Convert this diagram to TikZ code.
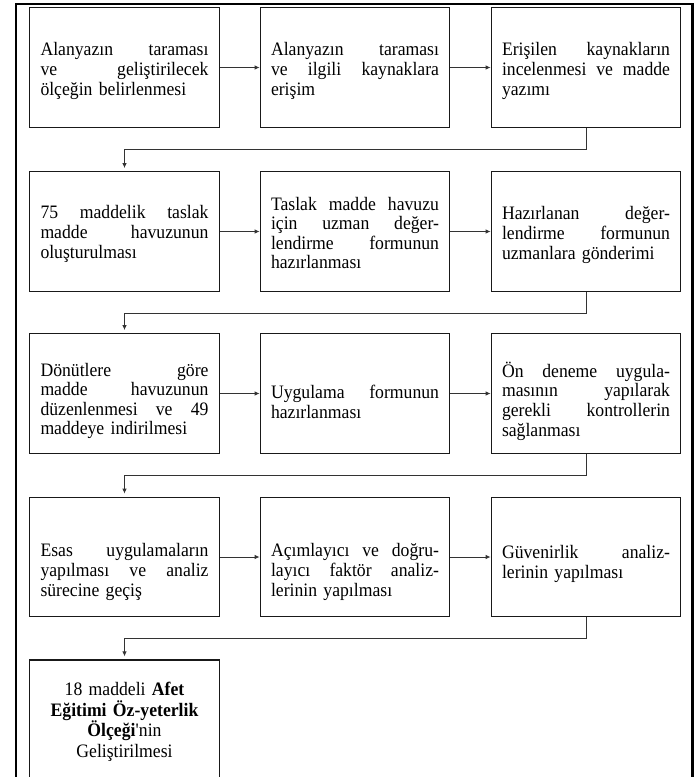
\documentclass[tikz,border=0pt]{standalone}
\usepackage{fontspec}
\setmainfont{Liberation Serif}[FakeStretch=0.93]
\usetikzlibrary{arrows.meta}
\newcommand\jline[1]{\makebox[168pt][s]{\spaceskip=0.25em plus 1fil\relax #1}}
\tikzset{
  frame/.style={draw=black, line width=2.2pt},
  box/.style={draw=black!90, line width=1.3pt, minimum width=189.5pt, minimum height=119.5pt, inner sep=0pt},
  txt/.style={text width=168pt, align=left, inner sep=0pt, font=\fontsize{19pt}{19.6pt}\selectfont},
  ctxt/.style={text width=168pt, align=center, inner sep=0pt, font=\fontsize{19pt}{20.6pt}\selectfont},
  arr/.style={draw=black!80, line width=0.9pt, -{Latex[length=5pt,width=4.5pt]}},
  conn/.style={arr, shorten >=3pt}
}
\begin{document}
\begin{tikzpicture}[x=1pt,y=-1pt]
\useasboundingbox (0,0) rectangle (698,777);
\clip (0,0) rectangle (698,777);
\draw[frame] (16,800) -- (16,4) -- (692.5,4) -- (692.5,800);
% row 1
\node[box] (b11) at (124.5,67.5) {};
\node[box] (b12) at (355,67.5) {};
\node[box] (b13) at (586,67.5) {};
\node[txt] (t11) at (124.5,71) {\jline{Alanyazın taraması}\\\jline{ve geliştirilecek}\\ölçeğin belirlenmesi};
\node[txt] (t12) at (355,71) {\jline{Alanyazın taraması}\\\jline{ve ilgili kaynaklara}\\erişim};
\node[txt] (t13) at (586,71) {\jline{Erişilen kaynakların}\\\jline{incelenmesi ve madde}\\yazımı};
% row 2
\node[box] (b21) at (124.5,231.5) {};
\node[box] (b22) at (355,231.5) {};
\node[box] (b23) at (586,231.5) {};
\node[txt] (t21) at (124.5,234) {\jline{75 maddelik taslak}\\\jline{madde havuzunun}\\oluşturulması};
\node[txt] (t22) at (355,233) {\jline{Taslak madde havuzu}\\\jline{için uzman değer-}\\\jline{lendirme formunun}\\hazırlanması};
\node[txt] (t23) at (586,235) {\jline{Hazırlanan değer-}\\\jline{lendirme formunun}\\uzmanlara gönderimi};
% row 3
\node[box] (b31) at (124.5,393.5) {};
\node[box] (b32) at (355,393.5) {};
\node[box] (b33) at (586,393.5) {};
\node[txt] (t31) at (124.5,401) {\jline{Dönütlere göre}\\\jline{madde havuzunun}\\\jline{düzenlenmesi ve 49}\\maddeye indirilmesi};
\node[txt] (t32) at (355,402) {\jline{Uygulama formunun}\\hazırlanması};
\node[txt] (t33) at (586,401) {\jline{Ön deneme uygula-}\\\jline{masının yapılarak}\\\jline{gerekli kontrollerin}\\sağlanması};
% row 4
\node[box] (b41) at (124.5,557) {};
\node[box] (b42) at (355,557) {};
\node[box] (b43) at (586,557) {};
\node[txt] (t41) at (124.5,572) {\jline{Esas uygulamaların}\\\jline{yapılması ve analiz}\\sürecine geçiş};
\node[txt] (t42) at (355,572) {\jline{Açımlayıcı ve doğru-}\\\jline{layıcı faktör analiz-}\\lerinin yapılması};
\node[txt] (t43) at (586,564) {\jline{Güvenirlik analiz-}\\lerinin yapılması};
% row 5
\node[box, minimum height=120pt] (b51) at (124.5,720) {};
\node[ctxt] (t51) at (124.5,722) {18 maddeli \textbf{Afet}\\\textbf{Eğitimi Öz-yeterlik}\\\textbf{Ölçeği}\textquotesingle nin\\Geliştirilmesi};
% arrows
\draw[arr] (b11.east) -- (b12.west);
\draw[arr] (b12.east) -- (b13.west);
\draw[arr] (b21.east) -- (b22.west);
\draw[arr] (b22.east) -- (b23.west);
\draw[arr] (b31.east) -- (b32.west);
\draw[arr] (b32.east) -- (b33.west);
\draw[arr] (b41.east) -- (b42.west);
\draw[arr] (b42.east) -- (b43.west);
\draw[conn] (b13.south) -- ++(0,22) -| (b21.north);
\draw[conn] (b23.south) -- ++(0,21.5) -| (b31.north);
\draw[conn] (b33.south) -- ++(0,21.5) -| (b41.north);
\draw[conn] (b43.south) -- ++(0,21.5) -| (b51.north);
\end{tikzpicture}
\end{document}
